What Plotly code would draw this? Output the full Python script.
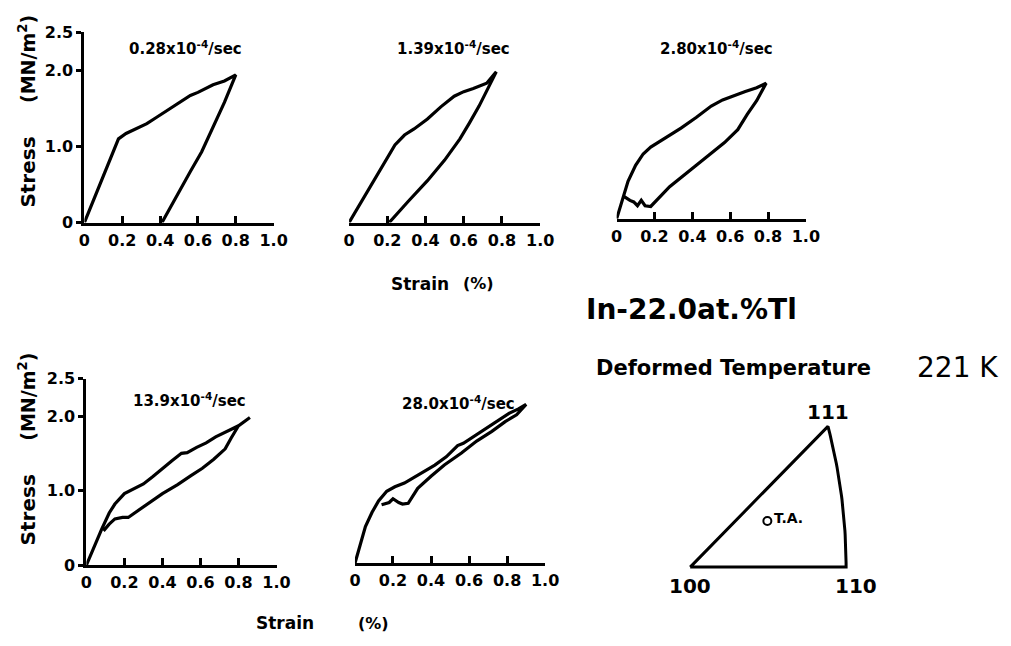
import numpy as np
import plotly.graph_objects as go

W, H = 1011, 646

# ---------------- data ----------------
rates = ["0.28", "1.39", "2.80", "13.9", "28.0"]

p1_load_x = [0, 0.18, 0.22, 0.27, 0.33, 0.38, 0.43, 0.46, 0.50, 0.56, 0.60, 0.64, 0.68, 0.74, 0.80]
p1_load_y = [0, 1.10, 1.17, 1.23, 1.30, 1.38, 1.46, 1.50, 1.57, 1.67, 1.71, 1.76, 1.81, 1.86, 1.94]
p1_unl_x = [0.80, 0.74, 0.68, 0.62, 0.56, 0.50, 0.45, 0.41]
p1_unl_y = [1.94, 1.58, 1.26, 0.93, 0.67, 0.41, 0.19, 0]

p2_load_x = [0, 0.06, 0.12, 0.18, 0.24, 0.29, 0.34, 0.41, 0.48, 0.55, 0.60, 0.65, 0.72, 0.77]
p2_load_y = [0, 0.26, 0.51, 0.78, 1.02, 1.15, 1.23, 1.36, 1.52, 1.66, 1.72, 1.76, 1.83, 1.98]
p2_unl_x = [0.77, 0.72, 0.68, 0.63, 0.58, 0.50, 0.41, 0.31, 0.21]
p2_unl_y = [1.98, 1.72, 1.53, 1.31, 1.10, 0.82, 0.55, 0.28, 0]

p3_load_x = [0, 0.03, 0.06, 0.10, 0.14, 0.18, 0.26, 0.34, 0.42, 0.50, 0.56, 0.62, 0.68, 0.74, 0.79]
p3_load_y = [0, 0.25, 0.49, 0.70, 0.85, 0.94, 1.06, 1.19, 1.33, 1.48, 1.56, 1.62, 1.67, 1.72, 1.78]
p3_unl_x = [0.79, 0.74, 0.69, 0.64, 0.57, 0.48, 0.38, 0.28, 0.18, 0.15, 0.13, 0.11, 0.09, 0.07, 0.04]
p3_unl_y = [1.78, 1.55, 1.37, 1.17, 1.00, 0.82, 0.62, 0.42, 0.16, 0.17, 0.24, 0.17, 0.22, 0.24, 0.29]

p4_load_x = [0, 0.04, 0.08, 0.12, 0.15, 0.20, 0.25, 0.30, 0.35, 0.40, 0.45, 0.50, 0.53, 0.58, 0.63, 0.68, 0.74, 0.80, 0.86]
p4_load_y = [0, 0.25, 0.48, 0.70, 0.82, 0.96, 1.03, 1.09, 1.19, 1.30, 1.40, 1.50, 1.51, 1.58, 1.64, 1.72, 1.79, 1.87, 1.98]
p4_unl_x = [0.86, 0.80, 0.76, 0.73, 0.67, 0.61, 0.55, 0.48, 0.40, 0.32, 0.25, 0.22, 0.19, 0.15, 0.12, 0.09]
p4_unl_y = [1.98, 1.87, 1.70, 1.56, 1.42, 1.30, 1.20, 1.08, 0.96, 0.82, 0.70, 0.64, 0.64, 0.62, 0.55, 0.46]

p5_load_x = [0, 0.03, 0.055, 0.09, 0.124, 0.167, 0.21, 0.26, 0.34, 0.42, 0.48, 0.54, 0.57, 0.63, 0.69, 0.75, 0.81, 0.86, 0.90]
p5_load_y = [0, 0.26, 0.49, 0.68, 0.83, 0.96, 1.02, 1.07, 1.19, 1.31, 1.42, 1.57, 1.60, 1.70, 1.81, 1.90, 2.00, 2.06, 2.12]
p5_unl_x = [0.90, 0.85, 0.79, 0.72, 0.64, 0.56, 0.47, 0.40, 0.33, 0.28, 0.25, 0.23, 0.20, 0.18, 0.14]
p5_unl_y = [2.12, 1.98, 1.89, 1.76, 1.63, 1.47, 1.31, 1.16, 1.00, 0.80, 0.79, 0.81, 0.86, 0.81, 0.78]

x_tickvals = [0, 0.2, 0.4, 0.6, 0.8, 1.0]
x_ticktext = ["0", "0.2", "0.4", "0.6", "0.8", "1.0"]
y_tickvals = [0, 1.0, 2.0, 2.5]
y_ticktext = ["0", "1.0", "2.0", "2.5"]

# stereographic triangle poles and tensile axis (projection coords)
pole_labels = ["100", "110", "111"]
poles = [(1, 0, 0), (1, 1, 0), (1, 1, 1)]
ta_xy = (0.205, 0.12)

# ---------------- helpers ----------------
def px_x(a, b):
    return [a / W, b / W]

def px_y(top, bottom):
    return [1 - bottom / H, 1 - top / H]

panels = [
    (p1_load_x, p1_load_y, p1_unl_x, p1_unl_y, px_x(80, 273), px_y(24, 220), True),
    (p2_load_x, p2_load_y, p2_unl_x, p2_unl_y, px_x(350, 545), px_y(24, 220), False),
    (p3_load_x, p3_load_y, p3_unl_x, p3_unl_y, px_x(623, 816), px_y(20, 216), False),
    (p4_load_x, p4_load_y, p4_unl_x, p4_unl_y, px_x(82, 276), px_y(381, 573), True),
    (p5_load_x, p5_load_y, p5_unl_x, p5_unl_y, px_x(356, 550), px_y(378, 571), False),
]

FONT = "DejaVu Sans"
fig = go.Figure()
layout = dict(
    width=W, height=H, margin=dict(l=0, r=0, t=0, b=0),
    paper_bgcolor="white", plot_bgcolor="white", showlegend=False,
    font=dict(family=FONT, color="black"),
)

for i, (lx, ly, ux, uy, dx, dy, show_y) in enumerate(panels, start=1):
    sfx = "" if i == 1 else str(i)
    fig.add_trace(go.Scatter(
        x=list(lx) + list(ux)[1:], y=list(ly) + list(uy)[1:],
        mode="lines", line=dict(color="black", width=3.2),
        xaxis="x" + sfx, yaxis="y" + sfx, hoverinfo="skip",
    ))
    layout["xaxis" + sfx] = dict(
        domain=dx, range=[0, 1.0], anchor="y" + sfx,
        showgrid=False, zeroline=False, showline=True, linecolor="black", linewidth=3,
        ticks="inside", ticklen=7, tickwidth=2.5, tickcolor="black",
        tickvals=x_tickvals, ticktext=x_ticktext, ticklabelstandoff=1,
        tickfont=dict(family=FONT, size=16, weight="bold"),
    )
    layout["yaxis" + sfx] = dict(
        domain=dy, range=[0, 2.5], anchor="x" + sfx,
        showgrid=False, zeroline=False, visible=show_y,
        showline=show_y, linecolor="black", linewidth=3,
        ticks="outside" if show_y else "", ticklen=5, tickwidth=2.5, tickcolor="black",
        tickvals=y_tickvals, ticktext=y_ticktext, showticklabels=show_y,
        tickfont=dict(family=FONT, size=16, weight="bold"),
    )

# stereographic triangle on its own axes
def stereo(v):
    v = np.array(v, float)
    v = v / np.linalg.norm(v)
    return v[1] / (1 + v[0]), v[2] / (1 + v[0])

pxy = [stereo(p) for p in poles]
arc = [stereo((1, 1, c)) for c in np.linspace(0, 1, 40)]
tri_x = [pxy[0][0], pxy[1][0]] + [a[0] for a in arc] + [pxy[0][0]]
tri_y = [pxy[0][1], pxy[1][1]] + [a[1] for a in arc] + [pxy[0][1]]
fig.add_trace(go.Scatter(
    x=tri_x, y=tri_y, mode="lines", line=dict(color="black", width=3),
    xaxis="x6", yaxis="y6", hoverinfo="skip",
))
fig.add_trace(go.Scatter(
    x=[ta_xy[0]], y=[ta_xy[1]], mode="markers",
    marker=dict(symbol="circle-open", size=8, color="black", line=dict(width=2)),
    xaxis="x6", yaxis="y6", hoverinfo="skip", cliponaxis=False,
))
sx, sy = 384.0, 396.0
ox, oy = 698, 575
layout["xaxis6"] = dict(domain=px_x(640, 940), range=[(640 - ox) / sx, (940 - ox) / sx],
                        anchor="y6", visible=False)
layout["yaxis6"] = dict(domain=px_y(380, 620), range=[(oy - 620) / sy, (oy - 380) / sy],
                        anchor="x6", visible=False)

fig.update_layout(**layout)

fig.add_annotation(text="T.A.", x=ta_xy[0], y=ta_xy[1], xref="x6", yref="y6",
                   showarrow=False, xanchor="left", xshift=5, yshift=3,
                   font=dict(family=FONT, size=14, weight="bold"))
label_shift = [(0, -19), (10, -19), (0, 14)]
for lab, (vx, vy), (xs, ys) in zip(pole_labels, pxy, label_shift):
    fig.add_annotation(text=lab, x=vx, y=vy, xref="x6", yref="y6", showarrow=False,
                       xshift=xs, yshift=ys, font=dict(family=FONT, size=20, weight="bold"))

# ---------------- text annotations ----------------
def ann(text, x, y, size, weight="bold", angle=0, xanchor="center"):
    fig.add_annotation(text=text, x=x / W, y=1 - y / H, xref="paper", yref="paper",
                       showarrow=False, textangle=angle, xanchor=xanchor, yanchor="middle",
                       font=dict(family=FONT, size=size, weight=weight, color="black"))

title_pos = [(183, 40), (457, 40), (725, 40), (187, 403), (462, 406)]
for r, (tx, ty) in zip(rates, title_pos):
    ann(f"{r}x10<sup>-4</sup>/sec", tx, ty, 15)

# y-axis titles
ann("(MN/m<sup>2</sup>)", 22, 52, 19, angle=-90)
ann("Stress", 22, 168, 20, angle=-90)
ann("(MN/m<sup>2</sup>)", 22, 400, 19, angle=-90)
ann("Stress", 22, 516, 20, angle=-90)

# x-axis titles
ann("Strain", 422, 283, 17)
ann("(%)", 482, 283, 16)
ann("Strain", 285, 633, 17)
ann("(%)", 375, 633, 16)

ann("In-22.0at.%Tl", 590, 310, 28, xanchor="left")
ann("Deformed Temperature", 600, 370, 21, xanchor="left")
ann("221 K", 971, 369, 28, weight="normal")

fig.write_html("out.html")
